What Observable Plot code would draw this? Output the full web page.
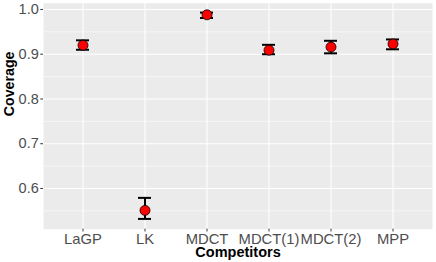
<!DOCTYPE html>
<html>
<head>
<meta charset="utf-8">
<script src="https://cdn.jsdelivr.net/npm/d3@7"></script>
<script src="https://cdn.jsdelivr.net/npm/@observablehq/plot@0.6"></script>
<style>
  html, body { margin: 0; padding: 0; background: #ffffff; }
  svg { display: block; }
</style>
</head>
<body>
<div id="chart"></div>
<script>
const categories = ["LaGP", "LK", "MDCT", "MDCT(1)", "MDCT(2)", "MPP"];
const coverage = [0.920, 0.551, 0.988, 0.909, 0.916, 0.923];
const lower = [0.910, 0.532, 0.981, 0.900, 0.902, 0.911];
const upper = [0.931, 0.579, 0.993, 0.921, 0.930, 0.933];
const yTicks = [0.6, 0.7, 0.8, 0.9, 1.0];
const yMinor = [0.55, 0.65, 0.75, 0.85, 0.95];
const xTitle = "Competitors";
const yTitle = "Coverage";

const data = categories.map((c, i) => ({cat: c, v: coverage[i], lo: lower[i], hi: upper[i]}));
const font = "'Liberation Sans', Arial, Helvetica, sans-serif";

const chart = Plot.plot({
  width: 436,
  height: 262,
  marginLeft: 43,
  marginRight: 4,
  marginTop: 2.7,
  marginBottom: 33.3,
  style: {fontFamily: font, background: "#ffffff", overflow: "visible"},
  x: {type: "band", domain: categories, paddingInner: 0.797, paddingOuter: 0.498, label: null},
  y: {domain: [0.509, 1.014], label: null},
  marks: [
    Plot.frame({fill: "#EBEBEB", stroke: null}),
    Plot.gridY(yMinor, {stroke: "#ffffff", strokeOpacity: 1, strokeWidth: 0.55}),
    Plot.gridY(yTicks, {stroke: "#ffffff", strokeOpacity: 1, strokeWidth: 1.1}),
    Plot.gridX({stroke: "#ffffff", strokeOpacity: 1, strokeWidth: 1.1}),
    Plot.axisY({ticks: yTicks, tickFormat: d3.format(".1f"), tickSize: 2.75, tickPadding: 2, stroke: "#333333", fill: "#4D4D4D", fontSize: 14.5, label: null}),
    Plot.axisX({tickSize: 2.75, tickPadding: 1.3, stroke: "#333333", fill: "#4D4D4D", fontSize: 14.8, label: null}),
    Plot.ruleX(data, {x: "cat", y1: "lo", y2: "hi", stroke: "#000000", strokeWidth: 2}),
    Plot.tickY(data, {x: "cat", y: "lo", stroke: "#000000", strokeWidth: 2}),
    Plot.tickY(data, {x: "cat", y: "hi", stroke: "#000000", strokeWidth: 2}),
    Plot.dot(data, {x: "cat", y: "v", r: 5, fill: "#FF0000", stroke: "#000000", strokeWidth: 0.8}),
    Plot.text([xTitle], {frameAnchor: "bottom", dy: 28, lineAnchor: "bottom", text: d => d, fontSize: 14.5, fontWeight: "bold", fill: "#000000"}),
    Plot.text([yTitle], {frameAnchor: "left", dx: -29.3, rotate: -90, lineAnchor: "bottom", text: d => d, fontSize: 14.2, fontWeight: "bold", fill: "#000000"})
  ]
});
document.getElementById("chart").appendChild(chart);
</script>
</body>
</html>
